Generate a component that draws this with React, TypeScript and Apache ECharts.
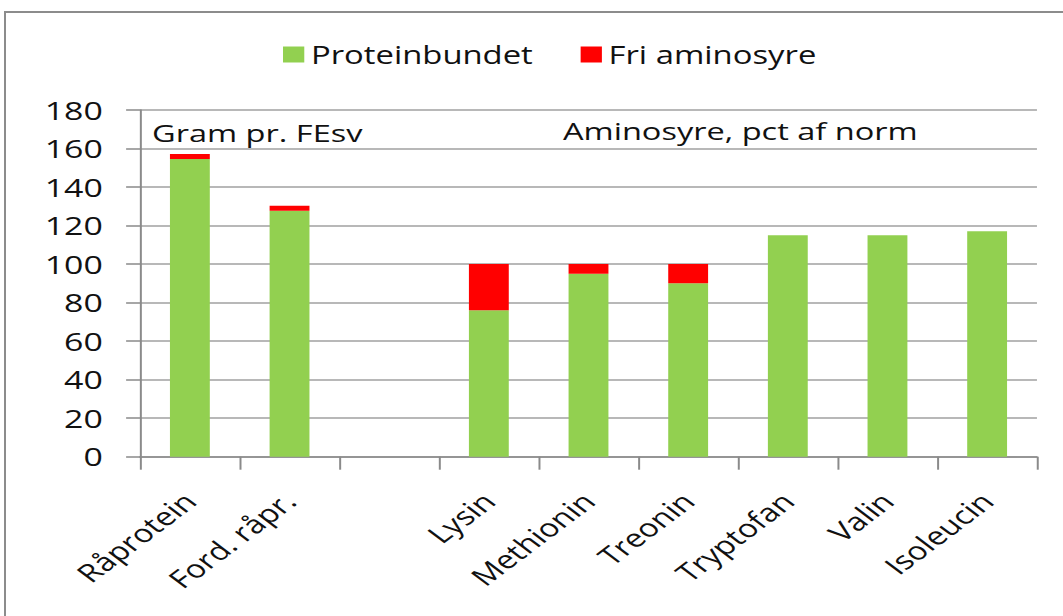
import React, { useEffect, useRef } from "react";
import * as echarts from "echarts";

const categories = ["Råprotein", "Ford. råpr.", "", "Lysin", "Methionin", "Treonin", "Tryptofan", "Valin", "Isoleucin"];
const proteinbundet = [154.5, 127.7, null, 76, 95, 90, 115, 115, 117];
const friAminosyre = [2.6, 2.6, null, 24, 5, 10, null, null, null];
const yTicks = { min: 0, max: 180, interval: 20 };

const STRETCH = 1.32875;
const FONT = "'Open Sans', 'Noto Sans', sans-serif";

export default function App() {
  const ref = useRef<HTMLDivElement>(null);
  useEffect(() => {
    if (!ref.current) return;
    const chart = echarts.init(ref.current, null, { renderer: "svg" });
    chart.setOption({
      animation: false,
      backgroundColor: "transparent",
      textStyle: { fontFamily: FONT },
      legend: {
        left: 208,
        top: 37,
        itemWidth: 16,
        itemHeight: 16,
        itemGap: 36,
        icon: "rect",
        textStyle: { fontSize: 24.7, color: "#111", fontFamily: FONT },
        data: ["Proteinbundet", "Fri aminosyre"],
      },
      grid: { left: 105.4, right: 19.6, top: 110, bottom: 159.3, containLabel: false },
      xAxis: {
        type: "category",
        data: categories,
        axisLine: { lineStyle: { color: "#8a8a8a", width: 1.5 } },
        axisTick: { show: true, length: 13, lineStyle: { color: "#8a8a8a", width: 1.5 } },
        axisLabel: {
          interval: 0,
          rotate: 45,
          margin: 40,
          fontSize: 25,
          color: "#111",
          fontFamily: FONT,
        },
      },
      yAxis: {
        type: "value",
        min: yTicks.min,
        max: yTicks.max,
        interval: yTicks.interval,
        axisLine: { show: true, lineStyle: { color: "#8a8a8a", width: 1.5 } },
        axisTick: { show: true, inside: false, length: 10.5, lineStyle: { color: "#8a8a8a", width: 1.5 } },
        splitLine: { show: true, lineStyle: { color: "#a0a0a0", width: 1.5 } },
        axisLabel: { margin: 28, fontSize: 25.5, color: "#111", fontFamily: FONT },
      },
      series: [
        {
          name: "Proteinbundet",
          type: "bar",
          stack: "total",
          barWidth: 30,
          itemStyle: { color: "#92D050" },
          data: proteinbundet,
        },
        {
          name: "Fri aminosyre",
          type: "bar",
          stack: "total",
          barWidth: 30,
          itemStyle: { color: "#FF0000" },
          data: friAminosyre,
        },
      ],
      graphic: [
        {
          type: "text",
          left: 114.4,
          top: 119.5,
          style: { text: "Gram pr. FEsv", fontSize: 24.5, fill: "#111", fontFamily: FONT },
        },
        {
          type: "text",
          left: 423.7,
          top: 118,
          style: { text: "Aminosyre, pct af norm", fontSize: 24.5, fill: "#111", fontFamily: FONT },
        },
      ],
    });
    return () => chart.dispose();
  }, []);

  return (
    <div
      style={{
        position: "fixed",
        left: 0,
        top: 0,
        width: 1063,
        height: 616,
        overflow: "hidden",
        background: "#fff",
      }}
    >
      <div
        style={{
          position: "absolute",
          left: 4,
          top: 11,
          width: 1080,
          height: 640,
          border: "2.5px solid #8c8c8c",
          boxSizing: "border-box",
        }}
      />
      <div
        ref={ref}
        style={{
          position: "absolute",
          left: 0,
          top: 0,
          width: 800,
          height: 616,
          transform: `scaleX(${STRETCH})`,
          transformOrigin: "0 0",
        }}
      />
    </div>
  );
}
